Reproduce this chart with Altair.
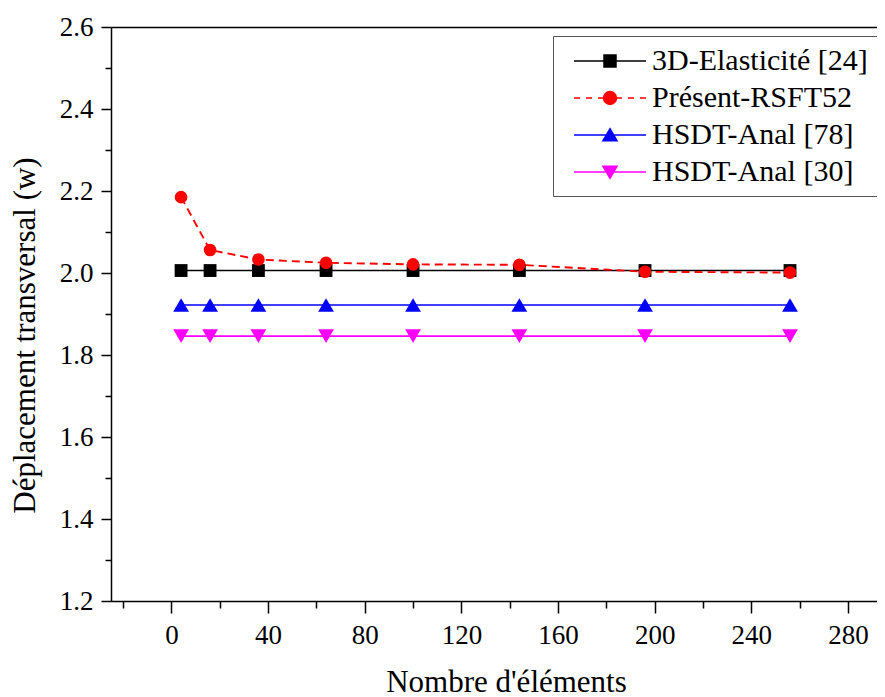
import altair as alt
import pandas as pd

# ---------------- data ----------------
elements = [4, 16, 36, 64, 100, 144, 196, 256]
w_elasticite = [2.006, 2.006, 2.006, 2.006, 2.006, 2.006, 2.006, 2.006]
w_present = [2.185, 2.056, 2.033, 2.025, 2.021, 2.020, 2.003, 2.001]
w_hsdt78 = [1.922, 1.922, 1.922, 1.922, 1.922, 1.922, 1.922, 1.922]
w_hsdt30 = [1.846, 1.846, 1.846, 1.846, 1.846, 1.846, 1.846, 1.846]

series_names = ["3D-Elasticité [24]", "Présent-RSFT52", "HSDT-Anal [78]", "HSDT-Anal [30]"]
series_values = [w_elasticite, w_present, w_hsdt78, w_hsdt30]

x_major = [0, 40, 80, 120, 160, 200, 240, 280]
x_minor = [-20, 20, 60, 100, 140, 180, 220, 260]
y_major = [1.2, 1.4, 1.6, 1.8, 2.0, 2.2, 2.4, 2.6]
y_minor = [1.3, 1.5, 1.7, 1.9, 2.1, 2.3, 2.5]

# ---------------- styles ----------------
series_colors = ["#000000", "#ff0000", "#0000ff", "#ff00ff"]
series_dash = [[1, 0], [8, 5], [1, 0], [1, 0]]
series_widths = [1.6, 1.9, 1.6, 1.6]
series_shapes = ["square", "circle", "triangle-up", "triangle-down"]
series_sizes = [165, 160, 250, 250]

LINE = "M-2.4,0L2.4,0"
legend_paths = [
    LINE + "M-0.4,-0.4L0.4,-0.4L0.4,0.4L-0.4,0.4Z",
    "M-2.4,0L-2,0M-1.6,0L-1.2,0M-0.8,0L-0.45,0M0.45,0L0.8,0M1.2,0L1.6,0M2,0L2.4,0"
    "M-0.43,0A0.43,0.43,0,1,1,0.43,0A0.43,0.43,0,1,1,-0.43,0Z",
    LINE + "M0,-0.42L0.47,0.38L-0.47,0.38Z",
    LINE + "M0,0.42L0.47,-0.38L-0.47,-0.38Z",
]

FONT = "Liberation Serif"

rows = []
for name, vals in zip(series_names, series_values):
    for n, w in zip(elements, vals):
        rows.append({"series": name, "n": n, "w": w})
df = pd.DataFrame(rows)

xscale = alt.Scale(domain=[-25, 292], nice=False, zero=False)
yscale = alt.Scale(domain=[1.2, 2.6], nice=False, zero=False)

common_axis = dict(
    grid=False,
    tickColor="black",
    tickWidth=1.5,
    domainColor="black",
    domainWidth=1.5,
    labelFont=FONT,
    labelColor="black",
    labelFlush=False,
    labelOverlap=False,
    titleFont=FONT,
    titleColor="black",
    titleFontWeight="normal",
)

x_axis_major = alt.Axis(
    orient="bottom",
    values=x_major,
    format="d",
    title="Nombre d'éléments",
    titleFontSize=31,
    titlePadding=19,
    titleX=395,
    labelFontSize=27,
    labelPadding=9,
    tickSize=12,
    **common_axis,
)
y_axis_major = alt.Axis(
    orient="left",
    values=y_major,
    format=".1f",
    title="Déplacement transversal (w)",
    titleFontSize=31,
    titlePadding=18,
    titleY=308,
    labelFontSize=27,
    labelPadding=8,
    tickSize=10,
    **common_axis,
)
x_axis_minor = alt.Axis(
    orient="bottom", values=x_minor, labels=False, domain=False, tickSize=7,
    title=None, grid=False, tickColor="black", tickWidth=1.5,
)
y_axis_minor = alt.Axis(
    orient="left", values=y_minor, labels=False, domain=False, tickSize=6,
    title=None, grid=False, tickColor="black", tickWidth=1.5,
)
x_axis_top = alt.Axis(
    orient="top", labels=False, ticks=False, domain=True, title=None, grid=False,
    domainColor="black", domainWidth=1.5,
)

base = alt.Chart(df)

layers = []
# lines, one layer per series
for i, name in enumerate(series_names):
    if i == 0:
        xa, ya = x_axis_major, y_axis_major
    elif i == 1:
        xa, ya = x_axis_minor, y_axis_minor
    elif i == 2:
        xa, ya = x_axis_top, None
    else:
        xa, ya = None, None
    ln = (
        base.transform_filter(alt.datum.series == name)
        .mark_line(color=series_colors[i], strokeDash=series_dash[i], strokeWidth=series_widths[i])
        .encode(
            x=alt.X("n:Q", scale=xscale, axis=xa),
            y=alt.Y("w:Q", scale=yscale, axis=ya),
            order="n:Q",
        )
    )
    layers.append(ln)

# markers, one layer per series
for i, name in enumerate(series_names):
    pts = (
        base.transform_filter(alt.datum.series == name)
        .mark_point(filled=True, shape=series_shapes[i], size=series_sizes[i],
                    opacity=1, color=series_colors[i])
        .encode(
            x=alt.X("n:Q", scale=xscale, axis=None),
            y=alt.Y("w:Q", scale=yscale, axis=None),
        )
    )
    layers.append(pts)

leg = alt.Legend(
    orient="none",
    legendX=442,
    legendY=9,
    title=None,
    labelFont=FONT,
    labelFontSize=30,
    labelColor="black",
    labelLimit=600,
    labelOffset=26,
    symbolOffset=32,
    symbolSize=900,
    symbolStrokeWidth=1.5,
    symbolFillColor="black",
    symbolStrokeColor="black",
    symbolOpacity=1,
    rowPadding=6,
    padding=9,
    strokeColor="#555555",
    fillColor="white",
)

legend_layer = base.mark_point(filled=True, opacity=0).encode(
    x=alt.X("n:Q", scale=xscale, axis=None),
    y=alt.Y("w:Q", scale=yscale, axis=None),
    fill=alt.Fill("series:N", scale=alt.Scale(domain=series_names, range=series_colors), legend=leg),
    stroke=alt.Stroke("series:N", scale=alt.Scale(domain=series_names, range=series_colors), legend=leg),
    shape=alt.Shape("series:N", scale=alt.Scale(domain=series_names, range=legend_paths), legend=leg),
)
layers.append(legend_layer)

chart = (
    alt.layer(*layers)
    .resolve_axis(x="independent", y="independent")
    .properties(
        width=766,
        height=574,
        autosize=alt.AutoSizeParams(type="none"),
        padding={"left": 103, "top": 19, "right": 0, "bottom": 96},
        background="white",
    )
    .configure_view(strokeWidth=0)
)

chart.save("out.html", embed_options={"renderer": "svg", "actions": False})
